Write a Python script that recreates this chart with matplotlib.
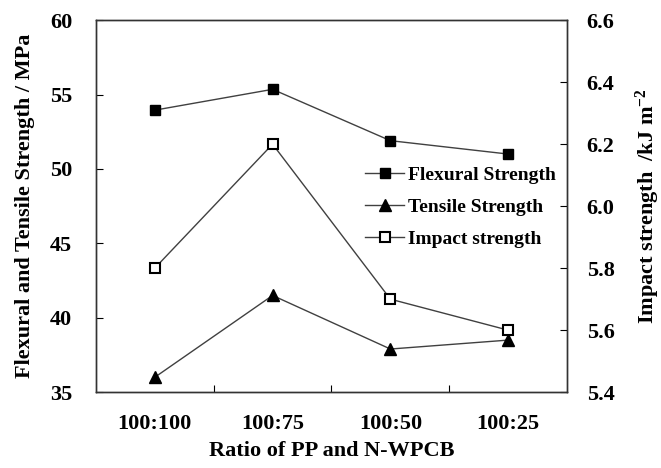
import numpy as np
import matplotlib
matplotlib.use("Agg")
import matplotlib.pyplot as plt

plt.rcParams['font.family'] = ['Liberation Serif', 'DejaVu Serif']
plt.rcParams['font.weight'] = 'bold'
plt.rcParams['mathtext.fontset'] = 'custom'
plt.rcParams['mathtext.rm'] = 'Liberation Serif:bold'
plt.rcParams['mathtext.default'] = 'rm'

ratios = ['100:100', '100:75', '100:50', '100:25']
flexural = [53.95, 55.35, 51.9, 51.0]
tensile = [36.0, 41.5, 37.9, 38.5]
impact = [5.8, 6.2, 5.7, 5.6]

x = np.arange(len(ratios))

fig = plt.figure(figsize=(6.61, 4.68), dpi=100)
ax = fig.add_axes([0.145, 0.162, 0.713, 0.795])
ax2 = ax.twinx()

line_col = '#404040'
l1, = ax.plot(x, flexural, color=line_col, lw=1.0, marker='s', ms=7,
              mfc='black', mec='black', label='Flexural Strength')
l2, = ax.plot(x, tensile, color=line_col, lw=1.0, marker='^', ms=8,
              mfc='black', mec='black', label='Tensile Strength')
l3, = ax2.plot(x, impact, color=line_col, lw=1.0, marker='s', ms=7,
               mfc='white', mec='black', mew=1.5, label='Impact strength')

ax.set_xlim(-0.5, len(ratios) - 0.5)
ax.set_ylim(35, 60)
ax.set_yticks(np.arange(35, 61, 5))
ax2.set_ylim(5.4, 6.6)
ax2.set_yticks(np.arange(5.4, 6.61, 0.2))
ax2.set_yticklabels(['%.1f' % v for v in np.arange(5.4, 6.61, 0.2)])

# category boundaries as ticks, names in between
ax.set_xticks(x[:-1] + 0.5)
ax.set_xticklabels([])
ax.set_xticks(x, minor=True)
ax.set_xticklabels(ratios, minor=True)
ax.tick_params(axis='x', which='major', direction='in', length=5)
ax.tick_params(axis='x', which='minor', length=0, pad=16, labelsize=16)
ax.tick_params(axis='y', direction='in', length=5, labelsize=16, pad=17)
ax2.tick_params(axis='y', direction='in', length=5, labelsize=16, pad=14)

for a in (ax, ax2):
    for s in a.spines.values():
        s.set_color('#333333')
        s.set_linewidth(1.0)

ax.set_xlabel('Ratio of PP and N-WPCB', fontsize=16, fontweight='bold', labelpad=5)
ax.set_ylabel('Flexural and Tensile Strength / MPa', fontsize=16, fontweight='bold', labelpad=11)
ax2.set_ylabel('Impact strength  /kJ m$^{-2}$', fontsize=16, fontweight='bold', labelpad=14)

ax.legend(handles=[l1, l2, l3], loc='upper left', bbox_to_anchor=(0.535, 0.655),
          frameon=False, fontsize=14, handlelength=2.0, labelspacing=0.75,
          handletextpad=0.2)

fig.savefig('out.png', dpi=100)
